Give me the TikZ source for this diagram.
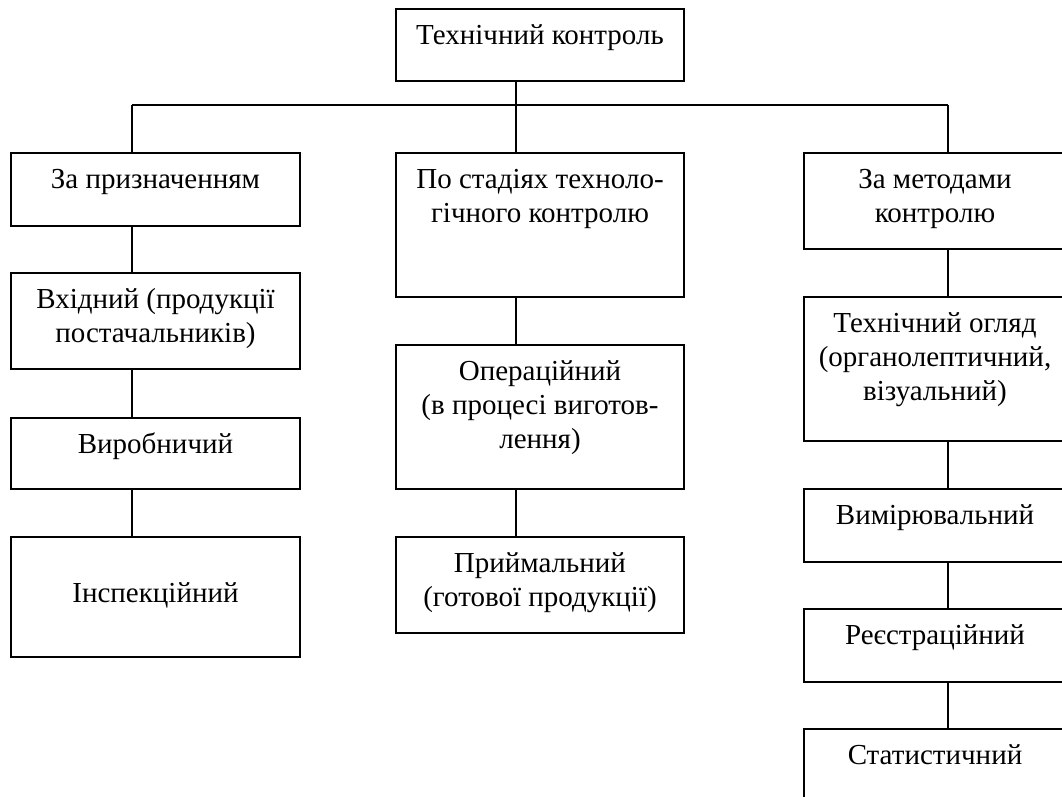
\documentclass[tikz,border=0pt]{standalone}
\usepackage{fontspec}
\setmainfont{Liberation Serif}
\tikzset{
  boxst/.style={draw=black, line width=1.5pt, rectangle, inner sep=0pt, outer sep=0pt, anchor=north west, font=\fontsize{29}{34}\selectfont},
  conn/.style={draw=black, line width=1.5pt}
}
% name, x, y, width, height, first-baseline offset, text
\newcommand{\mybox}[7]{%
  \node[boxst, minimum width=#4pt, minimum height=#5pt] (#1) at (#2,#3)
    {\parbox[c][#5pt][t]{#4pt}{\centering\rule{0pt}{#6pt}#7}};}
\begin{document}
\begin{tikzpicture}[x=1pt, y=-1pt]
\useasboundingbox (0,0) rectangle (1062,796);
\clip (0,0) rectangle (1062,796);
% top
\mybox{top}{396}{9}{288}{72}{35}{Технічний контроль}
% left column
\mybox{l1}{11}{153}{289}{73}{35}{За призначенням}
\mybox{l2}{11}{273}{289}{96}{35}{Вхідний (продукції\\постачальників)}
\mybox{l3}{11}{418}{289}{71}{35}{Виробничий}
\mybox{l4}{11}{537}{289}{120}{65}{Інспекційний}
% middle column
\mybox{m1}{396}{153}{288}{144}{35}{По стадіях техноло-\\гічного контролю}
\mybox{m2}{396}{345}{288}{144}{35}{Операційний\\(в процесі виготов-\\лення)}
\mybox{m3}{396}{537}{288}{96}{35}{Приймальний\\(готової продукції)}
% right column
\mybox{r1}{804}{153}{262}{96}{35}{За методами\\контролю}
\mybox{r2}{804}{297}{262}{144}{35}{Технічний огляд\\(органолептичний,\\візуальний)}
\mybox{r3}{804}{489}{262}{73}{35}{Вимірювальний}
\mybox{r4}{804}{609}{262}{73}{35}{Реєстраційний}
\mybox{r5}{804}{729}{262}{96}{35}{Статистичний}
% bus
\coordinate (hL) at (132,105);
\coordinate (hM) at (516,105);
\coordinate (hR) at (948,105);
\draw[conn] (hL) -- (hR);
\draw[conn] (top.south -| hM) -- (m1.north -| hM);
\draw[conn] (hL) -- (l1.north -| hL);
\draw[conn] (hR) -- (r1.north -| hR);
% columns
\draw[conn] (l1.south -| hL) -- (l2.north -| hL);
\draw[conn] (l2.south -| hL) -- (l3.north -| hL);
\draw[conn] (l3.south -| hL) -- (l4.north -| hL);
\draw[conn] (m1.south -| hM) -- (m2.north -| hM);
\draw[conn] (m2.south -| hM) -- (m3.north -| hM);
\draw[conn] (r1.south -| hR) -- (r2.north -| hR);
\draw[conn] (r2.south -| hR) -- (r3.north -| hR);
\draw[conn] (r3.south -| hR) -- (r4.north -| hR);
\draw[conn] (r4.south -| hR) -- (r5.north -| hR);
\end{tikzpicture}
\end{document}
